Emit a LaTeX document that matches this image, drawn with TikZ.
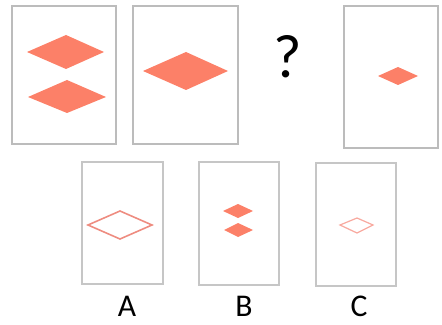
\documentclass[tikz,border=0pt]{standalone}
\usepackage{fontspec}
\setmainfont{Carlito}
\definecolor{salmonfill}{RGB}{252,128,104}
\definecolor{salmonline}{RGB}{238,140,128}
\definecolor{salmonpale}{RGB}{248,170,160}
\definecolor{framegray}{RGB}{188,188,188}
\tikzset{
  frame/.style={framegray, line width=1.1pt},
  smallframe/.style={framegray!85, line width=0.8pt},
  solidrhomb/.style={fill=salmonfill, draw=none},
  openrhomb/.style={draw=salmonline, line width=0.9pt, line join=miter},
  paleRhomb/.style={draw=salmonpale, line width=0.7pt, line join=miter},
  choice/.style={font=\fontsize{18}{18}\selectfont, text=black, inner sep=0pt, anchor=base}
}
\begin{document}
\begin{tikzpicture}[x=0.02cm, y=-0.02cm]
  \useasboundingbox (0,0) rectangle (442,324);
  % top row
  \draw[frame] (12,6) rectangle (116,144);
  \fill[solidrhomb] (27,52) -- (66,35) -- (104,52) -- (66,69) -- cycle;
  \fill[solidrhomb] (28,97) -- (67,80) -- (106,97) -- (67,113) -- cycle;
  \draw[frame] (133,6) rectangle (238,144);
  \fill[solidrhomb] (143,71) -- (186,52) -- (228,71) -- (186,90) -- cycle;
  \node[font=\fontsize{35}{35}\selectfont] (ask) at (288,57) {?};
  \draw[frame] (344,6) rectangle (438,148);
  \fill[solidrhomb] (378,76) -- (398,67) -- (418,76) -- (398,85) -- cycle;
  % answers
  \draw[smallframe] (82,162) rectangle (163,284);
  \draw[openrhomb] (88,225) -- (120,211) -- (152,225) -- (120,239) -- cycle;
  \draw[smallframe] (199,162) rectangle (279,285);
  \fill[solidrhomb] (223,211) -- (238,204) -- (253,211) -- (238,218) -- cycle;
  \fill[solidrhomb] (224,230) -- (238,223) -- (253,230) -- (238,237) -- cycle;
  \draw[smallframe] (316,163) rectangle (396,286);
  \draw[paleRhomb] (340,225) -- (357,218) -- (373,225) -- (357,233) -- cycle;
  \node[choice] (optA) at (127,316) {A};
  \node[choice] (optB) at (244,316) {B};
  \node[choice] (optC) at (359,316) {C};
\end{tikzpicture}
\end{document}
